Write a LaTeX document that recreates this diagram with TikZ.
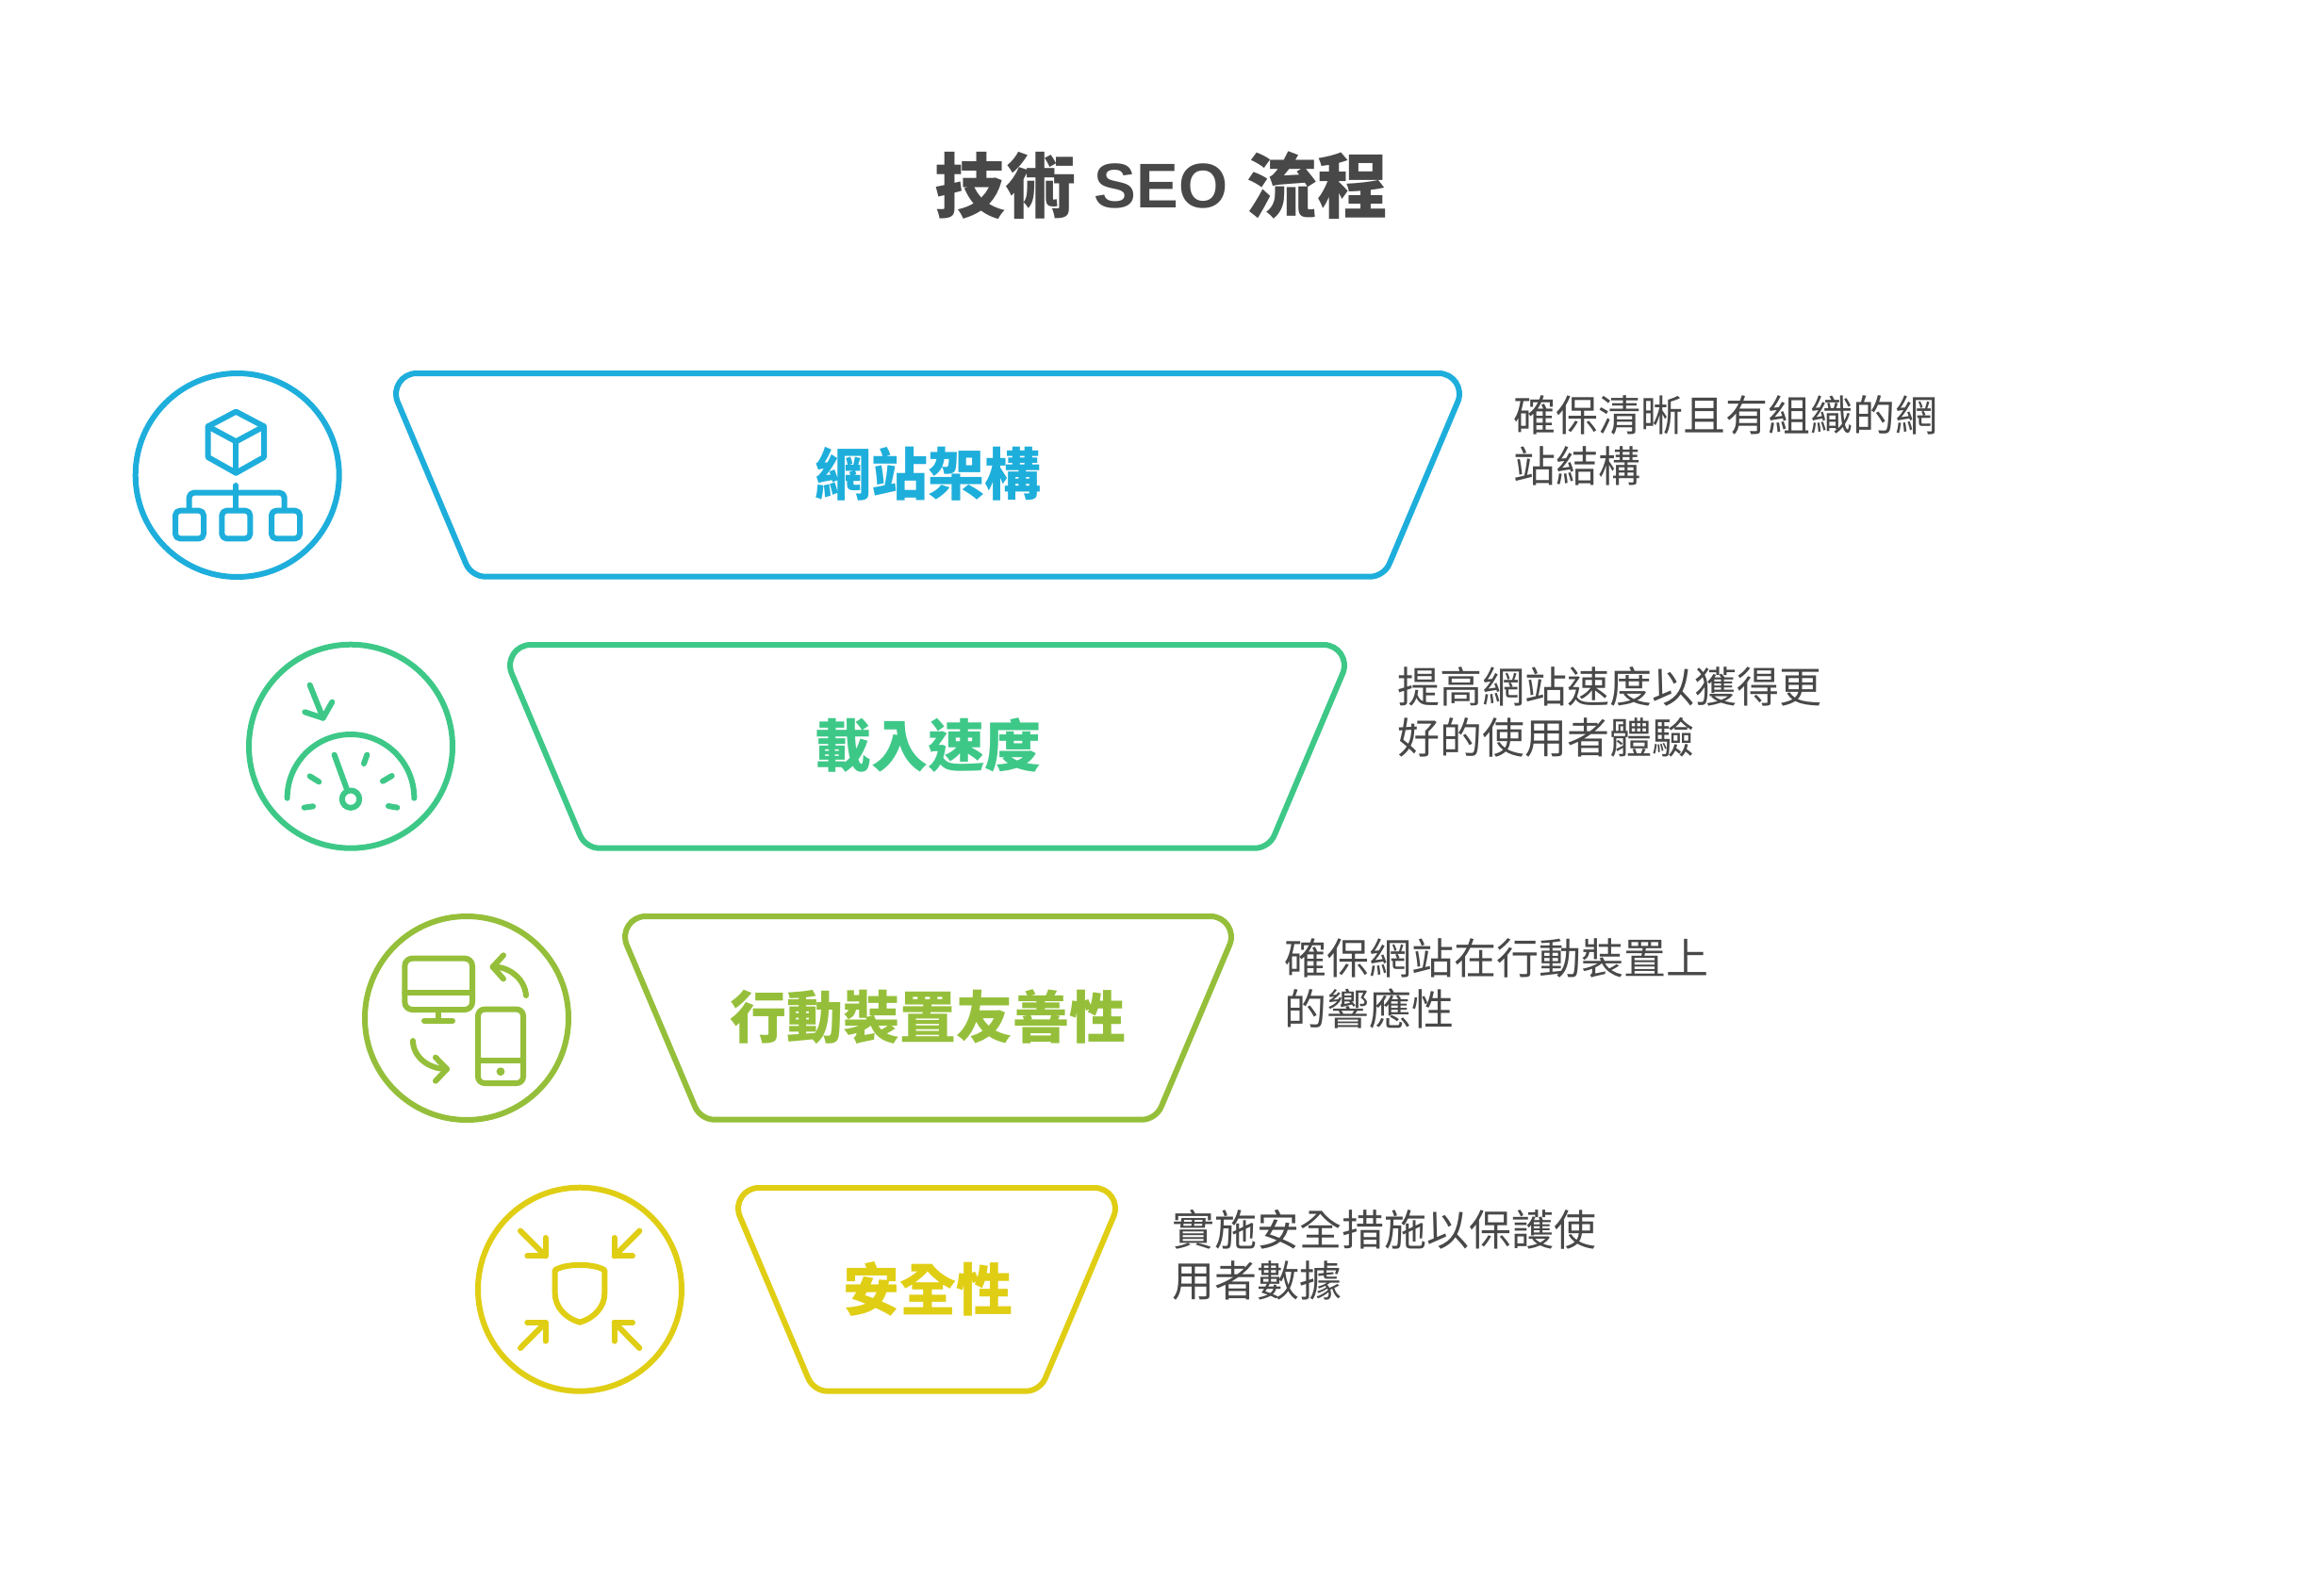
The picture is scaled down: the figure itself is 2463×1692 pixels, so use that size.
\documentclass[tikz,border=0pt]{standalone}
\usepackage{fontspec}
\newfontfamily\cjk{Noto Sans CJK TC}
\newfontfamily\latn{Liberation Sans}
\definecolor{cblue}{HTML}{1EAEDB}
\definecolor{cgreen}{HTML}{3EC888}
\definecolor{colive}{HTML}{95BF3A}
\definecolor{cyellow}{HTML}{E0CE14}
\definecolor{ctext}{HTML}{484848}
\tikzset{
  ring/.style={line width=6pt},
  outline/.style={line width=6pt,line join=round},
  icon/.style={line width=6pt,line cap=round,line join=round},
  titletext/.style={font=\cjk\bfseries\fontsize{75}{80}\selectfont,text=ctext,inner sep=0pt},
  labeltext/.style={font=\cjk\bfseries\fontsize{60}{66}\selectfont,inner sep=0pt},
  desctext/.style={font=\cjk\fontsize{45}{54.2}\selectfont,text=ctext,inner sep=0pt,anchor=west,align=left},
  zoomed/.style={x=0.33333pt,y=-0.33333pt},
}
% #1 left top x, #2 top y, #3 right top x, #4 colour
\newcommand\funnelrow[4]{%
\begin{scope}[shift={(#1,#2)}]
\pgfmathsetmacro\wd{#3-#1}
\draw[outline,#4] (33,0) -- ({\wd-33},0)
  .. controls ({\wd-17.2},0) and ({\wd-6.66},15.8) .. ({\wd-12.8},30.4)
  -- ({\wd-91+5.8},201.9)
  .. controls ({\wd-91+2.4},210) and ({\wd-91-6.2},215.7) .. ({\wd-91-15},215.7)
  -- (106,215.7)
  .. controls (97.2,215.7) and (88.6,210) .. (85.2,201.9)
  -- (12.8,30.4)
  .. controls (6.66,15.8) and (17.2,0) .. (33,0) -- cycle;
\end{scope}}
\begin{document}
\begin{tikzpicture}[x=1pt,y=-1pt]
\useasboundingbox (0,0) rectangle (2463,1692);
\fill[white] (0,0) rectangle (2463,1692);
\node[titletext] (title) at (1232,197) {技術\hspace{19pt}\raisebox{5pt}{\latn\bfseries\fontsize{67}{70}\selectfont SEO}\hspace{20pt}流程};

% row 1
\funnelrow{409}{396}{1559}{cblue}
\draw[ring,cblue] (251.7,504) circle[radius=108pt];
\node[labeltext,text=cblue] (l1) at (984,503) {網站架構};
\node[desctext] (d1) at (1605,467) {確保清晰且有組織的網\\站結構};
\begin{scope}[shift={(120,370)},zoomed]
\draw[icon,cblue] (391,200) -- (302,247) -- (302,345) -- (391,395) -- (480,345) -- (480,247) -- cycle;
\draw[icon,cblue] (302,247) -- (391,295) -- (480,247);
\draw[icon,cblue] (391,295) -- (391,395);
\draw[icon,cblue] (391,435) -- (391,512);
\draw[icon,cblue,rounded corners=5pt] (242,512) -- (242,458) -- (545,458) -- (545,512);
\draw[icon,cblue,rounded corners=5pt] (198,515) rectangle (288,604);
\draw[icon,cblue,rounded corners=5pt] (346,515) rectangle (436,604);
\draw[icon,cblue,rounded corners=5pt] (504,515) rectangle (594,604);
\end{scope}

% row 2
\funnelrow{530}{684}{1437}{cgreen}
\draw[ring,cgreen] (372,791.7) circle[radius=108pt];
\node[labeltext,text=cgreen] (l2) at (984,791) {載入速度};
\node[desctext] (d2) at (1482.5,755) {提高網站速度以獲得更\\好的使用者體驗};
\begin{scope}[shift={(240,670)},zoomed]
\draw[icon,cgreen] (266,170) -- (308,275);
\draw[icon,cgreen] (250,256) -- (308,275) -- (337,224);
\draw[icon,cgreen] (194,530) .. controls (194,418) and (284,327) .. (396,327) .. controls (508,327) and (598,418) .. (598,530);
\draw[icon,cgreen] (344,392) -- (385,505);
\draw[icon,cgreen] (396,533) circle[radius=9.2pt];
\draw[icon,cgreen] (266,460) -- (295,478);
\draw[icon,cgreen] (448,392) -- (438,420);
\draw[icon,cgreen] (498,476) -- (527,459);
\draw[icon,cgreen] (248,560) -- (276,556);
\draw[icon,cgreen] (516,555) -- (544,560);
\end{scope}

% row 3
\funnelrow{652}{972}{1317}{colive}
\draw[ring,colive] (495,1080) circle[radius=108pt];
\node[labeltext,text=colive] (l3) at (984,1079) {行動裝置友善性};
\node[desctext] (d3) at (1362.5,1043) {確保網站在行動裝置上\\的響應性};
\begin{scope}[shift={(370,960)},zoomed]
\draw[icon,colive,rounded corners=8pt] (178,170) rectangle (393,333);
\draw[icon,colive] (178,278) -- (393,278);
\draw[icon,colive] (285,333) -- (285,368);
\draw[icon,colive] (240,368) -- (330,368);
\draw[icon,colive,rounded corners=7pt] (411,332) rectangle (555,567);
\draw[icon,colive] (411,494) -- (555,494);
\fill[colive] (483,530) circle[radius=4.4pt];
\draw[icon,colive] (564,288) .. controls (560,235) and (510,195) .. (458,197);
\draw[icon,colive] (492,160) -- (458,197) -- (492,235);
\draw[icon,colive] (204,432) .. controls (204,480) and (250,522) .. (312,522);
\draw[icon,colive] (276,485) -- (312,522) -- (276,560);
\end{scope}

% row 4
\funnelrow{772}{1260}{1194}{cyellow}
\draw[ring,cyellow] (615,1367.7) circle[radius=108pt];
\node[labeltext,text=cyellow] (l4) at (984,1367) {安全性};
\node[desctext] (d4) at (1243,1331) {實施安全措施以保護使\\用者數據};
\begin{scope}[shift={(500,1250)},zoomed]
\draw[icon,cyellow] (156,167) -- (236,247);
\draw[icon,cyellow] (178,247) -- (236,247) -- (236,189);
\draw[icon,cyellow] (535,167) -- (455,247);
\draw[icon,cyellow] (455,189) -- (455,247) -- (513,247);
\draw[icon,cyellow] (156,540) -- (236,459);
\draw[icon,cyellow] (178,459) -- (236,459) -- (236,518);
\draw[icon,cyellow] (535,540) -- (455,459);
\draw[icon,cyellow] (513,459) -- (455,459) -- (455,518);
\draw[icon,cyellow] (266,292) .. controls (300,270) and (390,270) .. (424,292) -- (424,365)
  .. controls (424,410) and (390,445) .. (345,458) .. controls (300,445) and (266,410) .. (266,365) -- cycle;
\end{scope}
\end{tikzpicture}
\end{document}
